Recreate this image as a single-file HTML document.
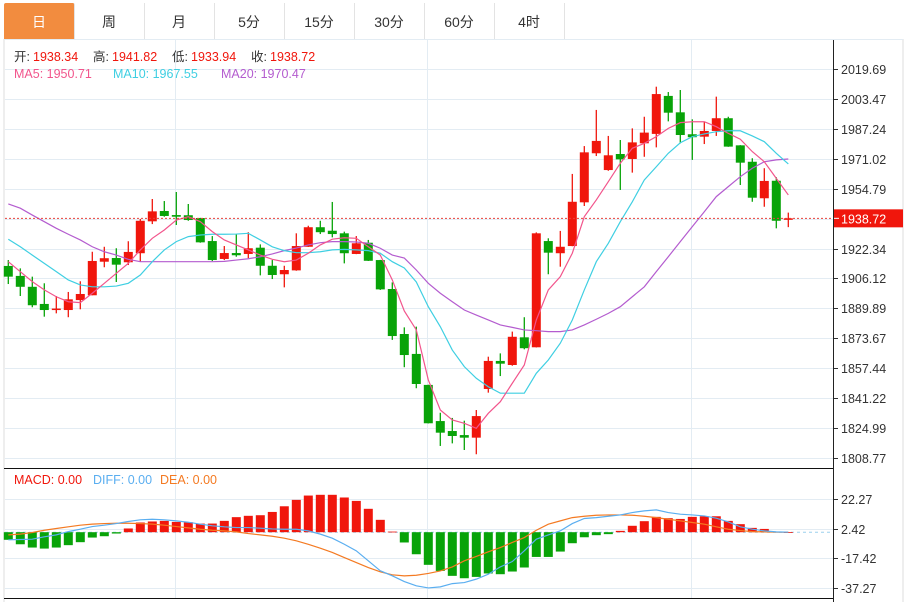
<!DOCTYPE html>
<html><head><meta charset="utf-8">
<style>
body{margin:0;background:#fff;font-family:"Liberation Sans","Noto Sans CJK SC",sans-serif;}
#wrap{position:relative;width:908px;height:602px;overflow:hidden;background:#fff;}
.tabs{position:absolute;left:4px;top:3px;height:36px;width:899px;border-bottom:1px solid #e3e3e3;}
.tab{position:absolute;top:0;height:36px;line-height:38px;text-align:center;font-size:14px;color:#333;border-right:1px solid #e3e3e3;}
.tab.on{background:#f28c3f;color:#fff;border-radius:2px 2px 0 0;}
svg{position:absolute;left:0;top:0;}
</style></head><body>
<div id="wrap">
<div class="tabs">
<div class="tab on" style="left:0;width:70px">日</div>
<div class="tab" style="left:70px;width:70px">周</div>
<div class="tab" style="left:140px;width:70px">月</div>
<div class="tab" style="left:210px;width:70px">5分</div>
<div class="tab" style="left:280px;width:70px">15分</div>
<div class="tab" style="left:350px;width:70px">30分</div>
<div class="tab" style="left:420px;width:70px">60分</div>
<div class="tab" style="left:490px;width:70px">4时</div>
</div>
<svg id="chart" width="908" height="602"></svg>
</div>
<script>
const opens=[1912.9,1907.5,1901.6,1892.3,1889.4,1889.0,1894.4,1897.0,1915.2,1917.2,1914.9,1919.8,1937.1,1942.7,1940.5,1940.4,1938.9,1926.4,1916.7,1919.9,1919.4,1922.8,1913.0,1908.4,1910.5,1923.3,1933.9,1932.0,1930.6,1919.4,1925.5,1916.1,1900.4,1876.0,1865.2,1848.4,1828.8,1823.4,1821.2,1819.8,1846.2,1861.4,1859.2,1874.2,1868.8,1926.4,1919.8,1923.7,1947.4,1974.0,1964.9,1973.6,1970.9,1979.4,1984.5,2005.1,1996.2,1984.3,1983.0,1986.1,1993.0,1978.3,1969.4,1949.6,1959.1,1938.34];
const highs=[1916.1,1911.6,1907.1,1903.5,1896.6,1898.8,1904.6,1920.6,1923.3,1922.5,1926.3,1938.4,1949.2,1948.1,1953.0,1946.5,1939.0,1929.1,1923.7,1930.1,1931.2,1924.6,1916.1,1913.0,1930.6,1934.7,1937.4,1947.6,1931.5,1929.1,1927.0,1916.2,1904.0,1879.6,1880.0,1848.5,1833.3,1830.5,1829.0,1834.8,1863.7,1865.5,1877.3,1885.1,1931.1,1927.9,1931.9,1962.8,1977.9,1997.5,1983.4,1981.2,1987.5,1993.8,2010.1,2007.2,2008.3,1992.4,1991.1,2004.7,1993.8,1978.4,1971.3,1965.9,1961.0,1941.82];
const lows=[1903.1,1896.6,1890.5,1885.4,1887.2,1885.1,1889.4,1897.0,1912.2,1904.2,1913.4,1915.2,1935.6,1939.6,1935.1,1937.4,1925.5,1915.6,1916.1,1917.9,1917.1,1907.8,1905.8,1901.3,1910.3,1923.2,1930.2,1928.4,1914.3,1919.3,1915.6,1899.9,1872.8,1858.0,1846.6,1827.5,1815.3,1816.7,1813.1,1810.8,1844.2,1853.2,1858.8,1867.7,1868.7,1908.4,1912.5,1923.6,1945.4,1972.5,1964.5,1954.1,1963.5,1972.1,1977.2,1991.3,1979.4,1970.4,1979.0,1983.4,1977.5,1956.8,1947.7,1945.0,1933.3,1933.94];
const closes=[1907.1,1901.6,1891.6,1889.0,1889.8,1894.8,1897.7,1915.6,1917.1,1913.6,1920.5,1937.4,1942.5,1940.0,1939.6,1937.8,1925.7,1916.1,1919.9,1918.7,1922.5,1913.0,1908.0,1910.7,1923.7,1933.9,1931.2,1930.2,1919.8,1925.2,1915.7,1900.2,1874.9,1864.6,1848.9,1827.6,1822.5,1820.7,1819.8,1831.5,1861.4,1859.9,1874.5,1868.3,1930.6,1920.1,1923.3,1947.7,1974.5,1980.7,1972.9,1970.7,1979.9,1985.2,2006.1,1996.0,1983.9,1982.7,1986.1,1993.0,1977.6,1968.9,1949.9,1959.0,1937.4,1938.72];
const ma5=[1915.2,1909.8,1904.4,1899.9,1896.2,1893.5,1893.0,1898.1,1903.5,1908.9,1914.3,1921.6,1927.9,1932.4,1937.8,1939.6,1936.9,1931.5,1927.0,1924.3,1921.6,1918.8,1916.5,1915.2,1916.1,1919.8,1924.3,1927.4,1928.2,1927.9,1923.3,1918.8,1905.3,1888.5,1878.2,1851.1,1834.8,1829.4,1827.6,1824.9,1833.0,1839.3,1849.3,1859.2,1883.6,1899.9,1907.1,1919.8,1939.6,1948.7,1958.6,1968.6,1976.7,1979.4,1983.0,1987.5,1990.6,1991.1,1991.1,1988.4,1984.8,1981.6,1974.9,1969.4,1960.4,1951.4];
const ma10=[1927.4,1923.3,1918.8,1914.3,1909.8,1905.3,1902.6,1901.6,1901.6,1902.0,1903.5,1908.0,1915.2,1921.6,1926.1,1928.8,1929.7,1930.1,1930.1,1930.2,1930.6,1927.0,1923.3,1921.2,1920.1,1920.1,1920.6,1921.6,1921.9,1921.6,1921.2,1919.8,1915.2,1911.8,1904.2,1890.8,1880.0,1867.3,1858.3,1852.0,1847.4,1843.9,1843.9,1843.9,1854.7,1861.9,1871.0,1883.6,1899.9,1915.2,1925.2,1936.9,1947.7,1959.5,1966.7,1974.0,1979.7,1983.0,1984.5,1985.7,1986.2,1986.2,1983.4,1980.3,1974.0,1968.2];
const ma20=[1946.5,1944.2,1940.5,1936.9,1933.3,1930.1,1927.0,1923.3,1920.6,1918.8,1916.5,1915.2,1915.2,1915.2,1915.2,1915.2,1915.2,1915.2,1915.4,1916.1,1916.8,1917.9,1919.4,1921.2,1922.6,1924.3,1925.5,1926.1,1926.1,1925.9,1925.2,1922.5,1918.8,1917.2,1910.7,1903.5,1898.1,1893.5,1889.0,1886.3,1883.6,1880.9,1879.6,1878.2,1877.8,1877.3,1877.3,1878.2,1880.9,1884.0,1887.2,1890.8,1896.2,1901.6,1909.8,1917.9,1926.1,1934.2,1942.3,1950.5,1955.9,1961.3,1965.9,1969.4,1970.4,1970.9];
const macdBars=[-5.1,-8.1,-10.3,-11.0,-10.3,-8.7,-6.7,-3.6,-2.7,-0.9,2.5,6.5,7.2,7.6,6.9,6.7,5.8,5.8,7.6,10.1,11.0,11.4,13.6,17.4,21.7,24.6,25.1,25.1,23.3,21.0,15.7,8.3,0.4,-6.9,-14.8,-21.9,-26.0,-29.3,-30.9,-30.0,-27.7,-28.2,-26.4,-23.7,-16.6,-16.6,-13.0,-7.4,-3.4,-2.0,-1.3,0.9,4.3,7.4,10.3,9.4,8.9,10.3,10.7,10.7,7.6,5.4,2.9,2.2,0.4,0];
const diff=[-5.1,-4.9,-4.7,-3.1,-1.8,0.4,2.0,3.8,4.7,5.8,7.2,8.3,8.7,8.3,7.6,6.7,5.4,4.3,3.6,3.1,3.1,2.7,2.2,2.0,2.0,0.9,-1.3,-4.0,-8.1,-12.5,-19.2,-25.9,-29.3,-33.1,-36.0,-37.4,-36.7,-34.5,-33.8,-31.5,-28.2,-23.3,-19.7,-12.5,-4.7,-1.8,0.9,5.8,9.2,9.8,10.7,11.6,13.2,14.3,15.0,13.2,12.1,11.6,10.9,9.4,6.9,3.6,2.0,0.9,0.2,0];
const dea=[-1.8,-1.3,-0.2,1.3,2.5,3.6,4.7,5.4,5.8,6.0,6.0,5.8,5.4,4.7,3.8,2.9,2.0,1.3,0.9,0.2,-0.9,-1.8,-2.7,-4.0,-5.8,-8.1,-10.7,-13.6,-17.0,-20.4,-23.7,-26.6,-28.6,-29.3,-28.9,-27.7,-26.0,-23.3,-19.2,-16.3,-13.2,-10.3,-6.9,-3.6,1.3,5.4,7.6,9.8,10.7,11.4,11.6,11.6,11.4,10.7,9.8,8.7,7.6,6.5,5.4,3.6,2.0,1.1,0.4,0.2,0,0];
const priceTicks=[2019.69,2003.47,1987.24,1971.02,1954.79,1938.57,1922.34,1906.12,1889.89,1873.67,1857.44,1841.22,1824.99,1808.77];
const macdTicks=[22.27,2.42,-17.42,-37.27];
const lastPrice=1938.72;

const NS="http://www.w3.org/2000/svg";
const svg=document.getElementById('chart');
function mk(tag,attrs,parent){const e=document.createElementNS(NS,tag);for(const k in attrs)e.setAttribute(k,attrs[k]);(parent||svg).appendChild(e);return e;}
const X=i=>8.3+12*i;
const Y=p=>69+(2019.69-p)*389/210.92;
const YM=v=>532.2-v*1.4898;
const RED="#f0160c",GREEN="#08a308";

// frame
let g=mk('g',{});


mk('line',{x1:4,y1:39,x2:4,y2:602,stroke:'#dcdcdc'},g);
mk('line',{x1:903,y1:39,x2:903,y2:602,stroke:'#dcdcdc'},g);
mk('line',{x1:4,y1:39.5,x2:903,y2:39.5,stroke:'#e3ecf3'},g);
// vertical grid
[175.5,427.5,691.5].forEach(x=>{mk('line',{x1:x,y1:40,x2:x,y2:598,stroke:'#e3ecf3'},g);});
// price grid + ticks
const ga=mk('g',{});


priceTicks.forEach(t=>{const y=Math.round(Y(t))+0.5;
 mk('line',{x1:5,y1:y,x2:833,y2:y,stroke:'#e3ecf3'},g);
 mk('line',{x1:833,y1:y,x2:838,y2:y,stroke:'#333'},ga);
 const tx=mk('text',{x:841,y:y+4.5,'font-size':12.5,fill:'#333'},ga);tx.textContent=t.toFixed(2);
 
 
});
macdTicks.forEach(t=>{const y=Math.round(YM(t))+0.5;
 mk('line',{x1:5,y1:y,x2:833,y2:y,stroke:'#e3ecf3'},g);
 mk('line',{x1:833,y1:y,x2:838,y2:y,stroke:'#333'},ga);
 const tx=mk('text',{x:841,y:y+4.5,'font-size':12.5,fill:'#333'},ga);tx.textContent=t.toFixed(2);
 
 
});
mk('line',{x1:833.5,y1:40,x2:833.5,y2:602,stroke:'#222'},ga);
mk('line',{x1:4,y1:468.5,x2:833,y2:468.5,stroke:'#111'},g);
mk('line',{x1:4,y1:598.5,x2:833,y2:598.5,stroke:'#111'},g);

// candles
const gc=mk('g',{});


for(let i=0;i<opens.length;i++){
 const up=closes[i]>=opens[i],c=up?RED:GREEN,x=X(i);
 const cg=mk('g',{},gc);
 
 
 mk('line',{x1:x,y1:Y(highs[i]),x2:x,y2:Y(lows[i]),stroke:c,'stroke-width':1.3},cg);
 const t=Y(Math.max(opens[i],closes[i])),b=Y(Math.min(opens[i],closes[i]));
 mk('rect',{x:x-4.5,y:t,width:9,height:Math.max(1.5,b-t),fill:c},cg);
}
// MA lines
function line(arr,yf,color,name,parent){const p=mk('polyline',{points:arr.map((v,i)=>X(i)+','+yf(v)).join(' '),fill:'none',stroke:color,'stroke-width':1.2},parent);
 
 }
line(ma20,Y,'#b45ccf','ma20-line');
line(ma10,Y,'#3fcfe2','ma10-line');
line(ma5,Y,'#f2558c','ma5-line');
// last price line & box
const ly=Y(lastPrice);
const lp=mk('line',{x1:5,y1:ly,x2:833,y2:ly,stroke:'#e8413a','stroke-dasharray':'2,2'});


const lb=mk('rect',{x:834,y:ly-9,width:69,height:18,fill:RED});


mk('line',{x1:834,y1:ly,x2:839,y2:ly,stroke:'#fff'});
const lt=mk('text',{x:841,y:ly+5,'font-size':12.5,fill:'#fff'});lt.textContent=lastPrice.toFixed(2);



// MACD
const z=YM(0);
const zl=mk('line',{x1:5,y1:z,x2:833,y2:z,stroke:'#9cd0ee','stroke-dasharray':'3,3'});


const gb=mk('g',{});


macdBars.forEach((v,i)=>{const y=YM(v);const r=mk('rect',{x:X(i)-4.5,y:Math.min(y,z),width:9,height:Math.max(0.8,Math.abs(y-z)),fill:v>=0?RED:GREEN},gb);
 
 });
line(dea,YM,'#f47a22','dea-line');
line(diff,YM,'#5aaef0','diff-line');

// legends
function txt(x,y,s,c,name){const t=mk('text',{x:x,y:y,'font-size':12.5,fill:c});t.textContent=s;
 
 return t;}
txt(14,61,'开:','#333','open-label');txt(33,61,'1938.34',RED,'open-value');
txt(93,61,'高:','#333','high-label');txt(112,61,'1941.82',RED,'high-value');
txt(172,61,'低:','#333','low-label');txt(191,61,'1933.94',RED,'low-value');
txt(251,61,'收:','#333','close-label');txt(270,61,'1938.72',RED,'close-value');
txt(14,78,'MA5: 1950.71','#f2558c','ma5-legend');
txt(113,78,'MA10: 1967.55','#3fcfe2','ma10-legend');
txt(221,78,'MA20: 1970.47','#b45ccf','ma20-legend');
txt(14,484,'MACD: 0.00','#f0160c','macd-legend');
txt(93,484,'DIFF: 0.00','#5aaef0','diff-legend');
txt(160,484,'DEA: 0.00','#f47a22','dea-legend');
</script>
</body></html>
